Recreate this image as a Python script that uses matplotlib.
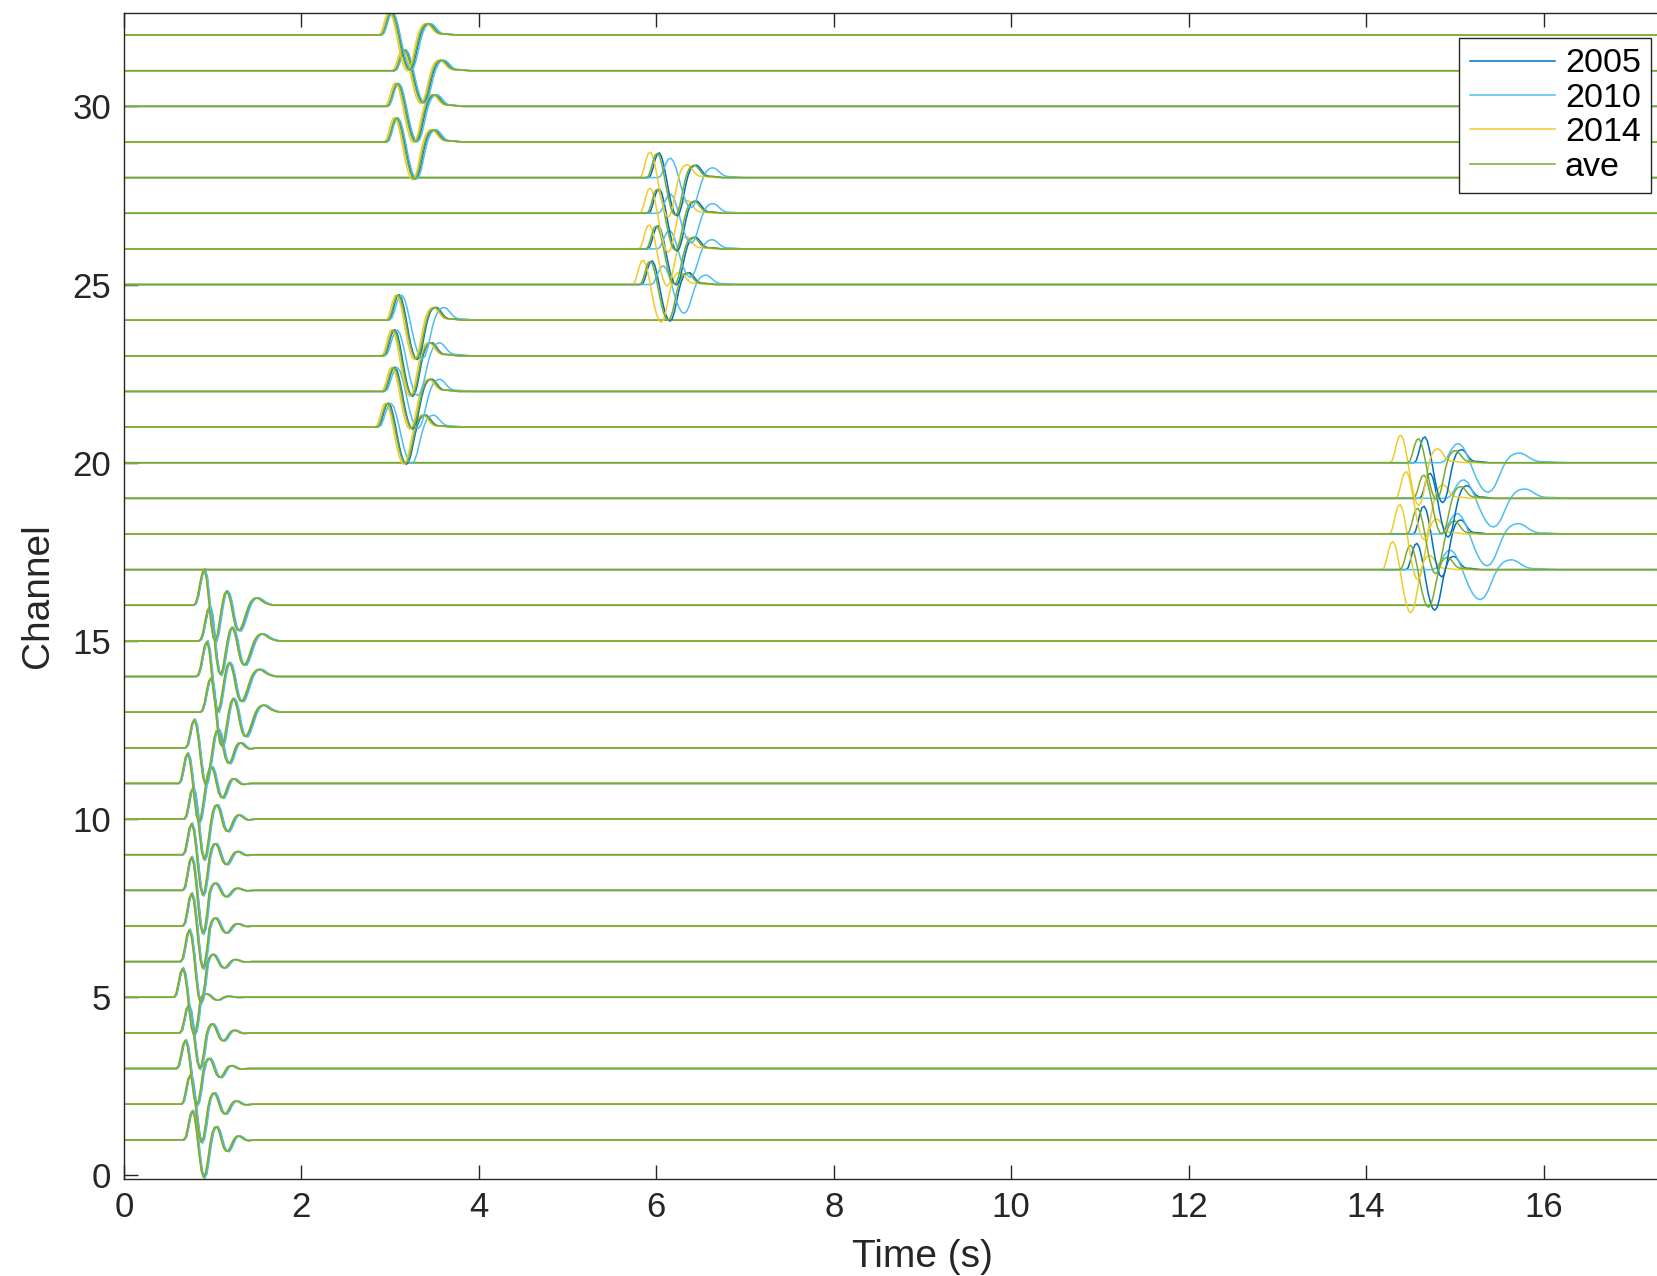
import numpy as np
import matplotlib
matplotlib.use("Agg")
import matplotlib.pyplot as plt

plt.rcParams["font.family"] = ["Liberation Sans", "DejaVu Sans"]

years = ["2005", "2010", "2014", "ave"]
colors = ["#0072BD", "#4DBEEE", "#EFCB2C", "#77AC30"]

# wavelet shapes (normalised to first peak), 0.025 s samples
tau_step = 0.025
wave_a = [0.00, 0.10, 0.45, 0.85, 1.00, 0.80, 0.25, -0.45, -1.05, -1.30, -1.15,
          -0.70, -0.15, 0.25, 0.43, 0.45, 0.30, 0.02, -0.25, -0.38, -0.40, -0.28,
          -0.10, 0.05, 0.12, 0.13, 0.09, 0.03, -0.01, -0.03, -0.02, -0.01, 0.00]
wave_b = [0.00, 0.05, 0.25, 0.60, 0.90, 1.00, 0.75, 0.15, -0.50, -0.90, -1.00,
          -0.80, -0.40, 0.00, 0.30, 0.40, 0.30, 0.05, -0.30, -0.58, -0.70, -0.70,
          -0.58, -0.40, -0.20, -0.02, 0.10, 0.17, 0.20, 0.20, 0.17, 0.12, 0.08,
          0.05, 0.03, 0.01, 0.00]
wave_c = [0.00, 0.08, 0.35, 0.70, 0.95, 1.00, 0.85, 0.50, 0.05, -0.45, -0.90,
          -1.25, -1.48, -1.55, -1.45, -1.15, -0.70, -0.25, 0.10, 0.33, 0.45, 0.50,
          0.50, 0.42, 0.30, 0.18, 0.10, 0.06, 0.05, 0.05, 0.04, 0.03, 0.02, 0.01,
          0.00]
coda_start = 0.3

channels = list(range(1, 33))
group = [0] * 12 + [1] * 4 + [2] * 4 + [3] * 4 + [4] * 4 + [5] * 4
group_wave = [wave_a, wave_b, wave_c, wave_c, wave_c, wave_c]

onset_ave = [0.67, 0.645, 0.59, 0.625, 0.56, 0.635, 0.66, 0.66, 0.66, 0.675, 0.615, 0.69,
             0.855, 0.81, 0.84, 0.78,
             14.38, 14.46, 14.53, 14.47,
             2.85, 2.92, 2.92, 2.97,
             5.81, 5.88, 5.89, 5.89,
             2.95, 2.96, 3.04, 2.89]
amp_ave = [0.81, 0.82, 0.79, 0.77, 0.81, 0.89, 0.91, 0.93, 0.87, 0.87, 0.84, 0.79,
           0.96, 0.98, 0.95, 1.00,
           0.68, 0.72, 0.65, 0.67,
           0.66, 0.67, 0.72, 0.70,
           0.65, 0.64, 0.67, 0.68,
           0.67, 0.64, 0.58, 0.63]
coda = [1.0, 0.84, 0.79, 0.72, 0.25, 0.5, 0.54, 0.48, 0.79, 1.0, 1.2, 1.38] + [1.0] * 20

# per group and year: (time shift, stretch, amplitude factor)
shift = {"2005": [0.01, 0.01, 0.07, 0.01, 0.02, 0.01],
         "2010": [0.01, 0.01, 0.37, 0.02, 0.13, 0.015],
         "2014": [0.0, 0.0, -0.20, -0.02, -0.08, -0.02],
         "ave": [0.0, 0.0, 0.0, 0.0, 0.0, 0.0]}
stretch = {"2005": [1.0, 1.0, 1.0, 1.0, 1.0, 1.0],
           "2010": [1.02, 1.02, 1.65, 1.15, 1.15, 1.03],
           "2014": [1.0, 1.0, 1.0, 1.0, 1.0, 1.0],
           "ave": [1.0, 1.0, 1.0, 1.0, 1.0, 1.0]}
scale = {"2005": [1.0, 1.0, 1.08, 1.02, 1.02, 1.0],
         "2010": [1.03, 1.03, 0.8, 1.0, 0.8, 1.0],
         "2014": [1.0, 1.0, 1.15, 1.02, 1.05, 1.03],
         "ave": [1.0, 1.0, 1.0, 1.0, 1.0, 1.0]}

t_end = 18.0

fig = plt.figure(figsize=(16.57, 12.76), dpi=100)
ax = fig.add_axes([0.0748, 0.0763, 0.9638, 0.9138])

handles = []
for i, ch in enumerate(channels):
    g = group[i]
    w = np.array(group_wave[g])
    tau = np.arange(len(w)) * tau_step
    w = w * np.where(tau < coda_start, 1.0, coda[i])
    for year, col in zip(years, colors):
        t0 = onset_ave[i] + shift[year][g]
        t = t0 + tau * stretch[year][g]
        y = ch + amp_ave[i] * scale[year][g] * w
        tt = np.concatenate([[0.0], t, [t_end]])
        yy = np.concatenate([[ch], y, [ch]])
        ln, = ax.plot(tt, yy, color=col, lw=1.1)
        if i == 0:
            handles.append(ln)

ax.set_xlim(0, 18)
ax.set_ylim(-0.09, 32.63)
ax.set_xticks(range(0, 17, 2))
ax.set_yticks(range(0, 31, 5))
ax.tick_params(direction="in", length=10, width=1.0, top=True, right=False,
               labelsize=25, pad=9, color="#262626", labelcolor="#262626")
for s in ["left", "bottom", "top"]:
    ax.spines[s].set_color("#262626")
    ax.spines[s].set_linewidth(1.0)
ax.spines["right"].set_visible(False)

ax.set_xlabel("Time (s)", fontsize=28, color="#262626", labelpad=11)
ax.set_ylabel("Channel", fontsize=28, color="#262626", labelpad=12)

leg = fig.legend(handles, years, loc="upper right", bbox_to_anchor=(0.9964, 0.970),
                 bbox_transform=fig.transFigure, fontsize=24.5, frameon=True,
                 fancybox=False, handlelength=2.5, handletextpad=0.3,
                 labelspacing=0.1, borderpad=0.3, borderaxespad=0)
leg.get_frame().set_edgecolor("#262626")
leg.get_frame().set_linewidth(1.0)
leg.get_frame().set_alpha(1)

fig.savefig("out.png", dpi=100)
